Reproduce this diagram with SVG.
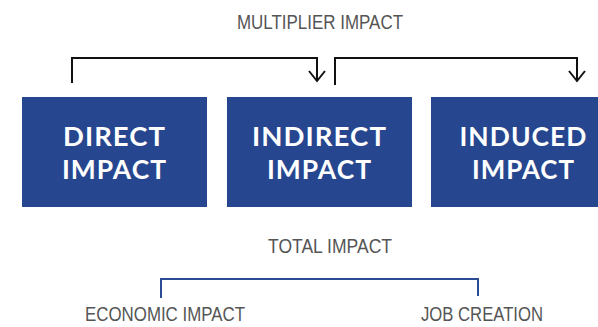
<svg xmlns="http://www.w3.org/2000/svg" width="598" height="327" viewBox="0 0 598 327">
<style>
.box{fill:#26468F}
.bt{font-family:"Lato","Open Sans",sans-serif;font-weight:bold;font-size:26px;fill:#fff;text-anchor:middle;letter-spacing:1px}
.lbl{font-family:"Liberation Sans",Arial,sans-serif;font-size:20px;fill:#555;text-anchor:middle}
.blk{fill:none;stroke:#111;stroke-width:2}
.blu{fill:none;stroke:#2B4A94;stroke-width:2}
</style>
<rect width="598" height="327" fill="#fff"/>
<g id="title"><text class="lbl" x="320" y="29" textLength="166" lengthAdjust="spacingAndGlyphs">MULTIPLIER IMPACT</text></g>
<g id="connectors">
<polyline class="blk" points="72,83 72,58 317,58 317,81"/>
<polyline class="blk" points="309,71 317,81 325,71"/>
<polyline class="blk" points="335,85 335,58 577,58 577,81"/>
<polyline class="blk" points="569,71 577,81 585,71"/>
<polyline class="blu" points="161,298 161,279 478,279 478,296"/>
</g>
<g id="direct">
<rect class="box" x="22" y="97" width="185" height="110"/>
<text class="bt" x="114.5" y="146" textLength="103" lengthAdjust="spacingAndGlyphs">DIRECT</text>
<text class="bt" x="114.5" y="179" textLength="105" lengthAdjust="spacingAndGlyphs">IMPACT</text>
</g>
<g id="indirect">
<rect class="box" x="227" y="97" width="185" height="110"/>
<text class="bt" x="319.5" y="146" textLength="135" lengthAdjust="spacingAndGlyphs">INDIRECT</text>
<text class="bt" x="319.5" y="179" textLength="105" lengthAdjust="spacingAndGlyphs">IMPACT</text>
</g>
<g id="induced">
<rect class="box" x="431" y="97" width="185" height="110"/>
<text class="bt" x="523.5" y="146" textLength="128" lengthAdjust="spacingAndGlyphs">INDUCED</text>
<text class="bt" x="523.5" y="179" textLength="103" lengthAdjust="spacingAndGlyphs">IMPACT</text>
</g>
<g id="total"><text class="lbl" x="330" y="253" textLength="124" lengthAdjust="spacingAndGlyphs">TOTAL IMPACT</text></g>
<g id="economic"><text class="lbl" x="165" y="321" textLength="160" lengthAdjust="spacingAndGlyphs">ECONOMIC IMPACT</text></g>
<g id="jobs"><text class="lbl" x="482" y="321" textLength="122" lengthAdjust="spacingAndGlyphs">JOB CREATION</text></g>
</svg>
